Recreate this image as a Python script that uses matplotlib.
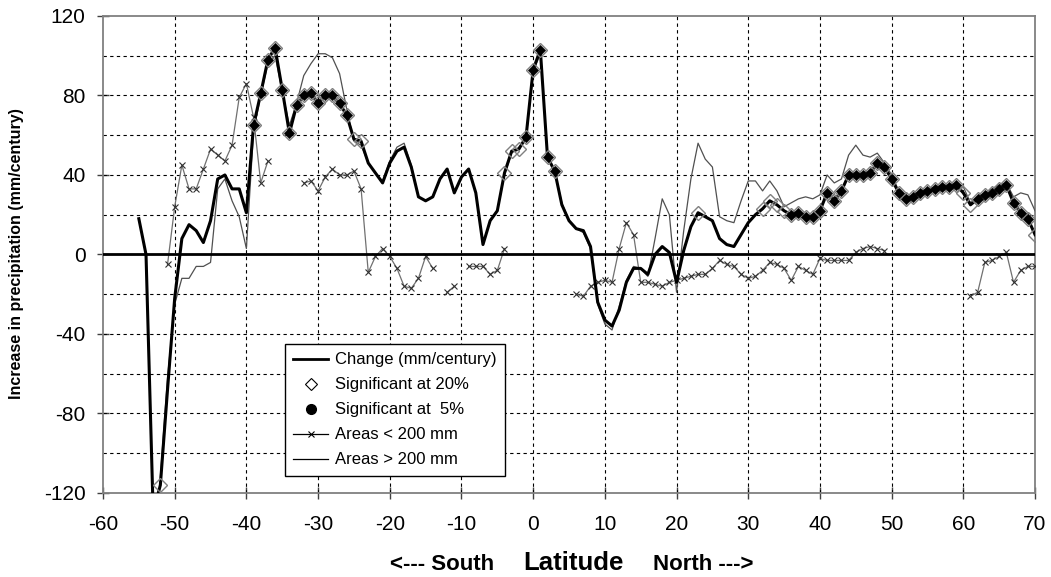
import numpy as np
import matplotlib
matplotlib.use("Agg")
import matplotlib.pyplot as plt
from matplotlib.lines import Line2D

plt.rcParams['font.family'] = ['Liberation Sans', 'DejaVu Sans']
plt.rcParams['axes.unicode_minus'] = False

nan = np.nan

# === Data (1 degree steps from -55 to 70) ===
lat = np.arange(-55, 71)

change = [
    18, 0, -130, -116, -68, -22, 8, 15, 12, 6,          # -55 .. -46
    17, 38, 40, 33, 33, 21, 65, 81, 98, 104,            # -45 .. -36
    83, 61, 75, 80, 81, 76, 80, 80, 76, 70,             # -35 .. -26
    58, 57, 46, 41, 36, 46, 52, 54, 44, 29,             # -25 .. -16
    27, 29, 38, 43, 31, 39, 43, 31, 5, 17,              # -15 .. -6
    22, 41, 52, 53, 59, 93, 103, 49, 42, 25,            # -5 .. 4
    17, 13, 12, 4, -24, -33, -36, -28, -14, -7,         # 5 .. 14
    -7, -10, 0, 4, 1, -14, 2, 14, 21, 19,               # 15 .. 24
    17, 8, 5, 4, 10, 16, 20, 23, 27, 25,                # 25 .. 34
    22, 20, 21, 19, 19, 22, 31, 27, 32, 40,             # 35 .. 44
    40, 40, 41, 46, 44, 38, 31, 28, 29, 31,             # 45 .. 54
    32, 33, 34, 34, 35, 31, 25, 28, 30, 31,             # 55 .. 64
    33, 35, 26, 21, 18, 10,                             # 65 .. 70
]

wet_areas = [
    nan, nan, nan, -112, -62, -25, -12, -12, -6, -6,    # -55 .. -46
    -4, 33, 38, 27, 19, 3, 62, 80, 96, 100,             # -45 .. -36
    82, 65, 76, 90, 96, 101, 101, 99, 91, 73,           # -35 .. -26
    57, 55, 46, 41, 37, 47, 54, 56, 45, 29,             # -25 .. -16
    27, 29, 38, 43, 31, 39, 43, 31, 5, 17,              # -15 .. -6
    22, 40, 51, 54, 58, 92, 101, 50, 42, 26,            # -5 .. 4
    17, 13, 11, 3, -25, -35, -38, -26, -13, -6,         # 5 .. 14
    -7, -11, 8, 28, 20, -19, 12, 38, 56, 48,            # 15 .. 24
    44, 19, 17, 16, 27, 37, 37, 32, 37, 32,             # 25 .. 34
    24, 26, 28, 29, 28, 30, 40, 36, 38, 50,             # 35 .. 44
    55, 50, 49, 51, 46, 40, 32, 29, 30, 32,             # 45 .. 54
    33, 34, 35, 35, 36, 34, 26, 29, 31, 33,             # 55 .. 64
    35, 36, 29, 31, 30, 22,                             # 65 .. 70
]

dry_areas = [
    nan, nan, nan, nan, -5, 24, 45, 33, 33, 43,         # -55 .. -46
    53, 50, 47, 55, 79, 86, 69, 36, 47, nan,            # -45 .. -36
    nan, nan, nan, 36, 37, 32, 39, 43, 40, 40,          # -35 .. -26
    42, 33, -9, -1, 3, -1, -7, -16, -17, -12,           # -25 .. -16
    -1, -7, nan, -19, -16, nan, -6, -6, -6, -10,        # -15 .. -6
    -8, 3, nan, nan, nan, nan, nan, nan, nan, nan,      # -5 .. 4
    nan, -20, -21, -16, -14, -13, -14, 3, 16, 10,       # 5 .. 14
    -14, -14, -15, -16, -14, -13, -12, -11, -10, -10,   # 15 .. 24
    -7, -3, -5, -6, -10, -12, -11, -8, -4, -5,          # 25 .. 34
    -7, -13, -6, -8, -10, -2, -3, -3, -3, -3,           # 35 .. 44
    1, 3, 4, 3, 2, nan, nan, nan, nan, nan,             # 45 .. 54
    nan, nan, nan, nan, nan, nan, -21, -19, -4, -3,     # 55 .. 64
    -1, 1, -14, -8, -6, -6,                             # 65 .. 70
]

# latitudes where the trend is significant
sig20_lat = [-52] + list(range(-39, -23)) + list(range(-4, 4)) + [23] + list(range(32, 71))
sig5_lat = list(range(-39, -25)) + list(range(-1, 4)) + list(range(36, 60)) + list(range(62, 70))

change = np.array(change, dtype=float)
wet_areas = np.array(wet_areas, dtype=float)
dry_areas = np.array(dry_areas, dtype=float)
assert len(change) == len(lat) == len(wet_areas) == len(dry_areas)

m20 = np.isin(lat, sig20_lat)
m5 = np.isin(lat, sig5_lat)

# === Plot ===
fig = plt.figure(figsize=(10.51, 5.77), dpi=100)
ax = fig.add_axes([0.098, 0.1456, 0.8868, 0.8267])

ax.plot(lat, wet_areas, color='#505050', lw=0.9, zorder=3)
ax.plot(lat, dry_areas, color='#707070', lw=0.9, marker='x', ms=4,
        mec='#303030', mew=0.8, zorder=3)
ax.axhline(0, color='black', lw=2, zorder=4)
ax.plot(lat, change, color='black', lw=2.2, zorder=5)
ax.plot(lat[m20], change[m20], 'D', ms=7.5, mfc='none', mec='#808080', mew=1, zorder=6)
ax.plot(lat[m5], change[m5], 'D', ms=5.5, mfc='black', mec='black', mew=0.5, zorder=7)

ax.set_xlim(-60, 70)
ax.set_ylim(-120, 120)
ax.set_xticks(range(-60, 71, 10))
ax.set_yticks(range(-120, 121, 40))
ax.set_xticks(range(-50, 61, 10), minor=True)
ax.set_yticks(range(-100, 101, 20), minor=True)
ax.xaxis.remove_overlapping_locs = False
ax.yaxis.remove_overlapping_locs = False
ax.grid(False)
ax.grid(True, which='minor', color='black', ls=(0, (3, 3)), lw=0.8, zorder=1)
ax.set_axisbelow(True)

ax.tick_params(which='major', direction='inout', length=9, width=1, color='#404040',
               labelsize=15)
ax.tick_params(axis='x', which='major', pad=11)
ax.tick_params(axis='y', which='major', pad=8)
ax.tick_params(which='minor', length=0)
for sp in ax.spines.values():
    sp.set_color('#808080')
    sp.set_linewidth(1.3)

# legend uses its own symbols (circle for 5%)
handles = [
    Line2D([], [], color='black', lw=2),
    Line2D([], [], ls='none', marker='D', ms=6, mfc='none', mec='black', mew=0.8),
    Line2D([], [], ls='none', marker='o', ms=7, mfc='black', mec='black'),
    Line2D([], [], color='black', lw=0.9, marker='x', ms=4, mew=0.8),
    Line2D([], [], color='black', lw=0.9),
]
labels = ['Change (mm/century)', 'Significant at 20%', 'Significant at  5%',
          'Areas < 200 mm', 'Areas > 200 mm']
leg = ax.legend(handles, labels, loc='upper left', bbox_to_anchor=(0.195, 0.312),
                borderaxespad=0, fontsize=12, fancybox=False, framealpha=1,
                edgecolor='black', handlelength=2.1, labelspacing=0.6,
                handletextpad=0.4, borderpad=0.5)
leg.get_frame().set_linewidth(1)
leg.set_zorder(10)

fig.text(17 / 1051, 1 - 254 / 577, 'Increase in precipitation (mm/century)',
         rotation=90, ha='center', va='center', fontsize=11.5, fontweight='bold')
fig.text(442 / 1051, 7 / 577, '<--- South', ha='center', va='baseline',
         fontsize=16, fontweight='bold')
fig.text(573 / 1051, 7 / 577, 'Latitude', ha='center', va='baseline',
         fontsize=18.5, fontweight='bold')
fig.text(703 / 1051, 7 / 577, 'North --->', ha='center', va='baseline',
         fontsize=16, fontweight='bold')

fig.savefig('out.png', dpi=100)
